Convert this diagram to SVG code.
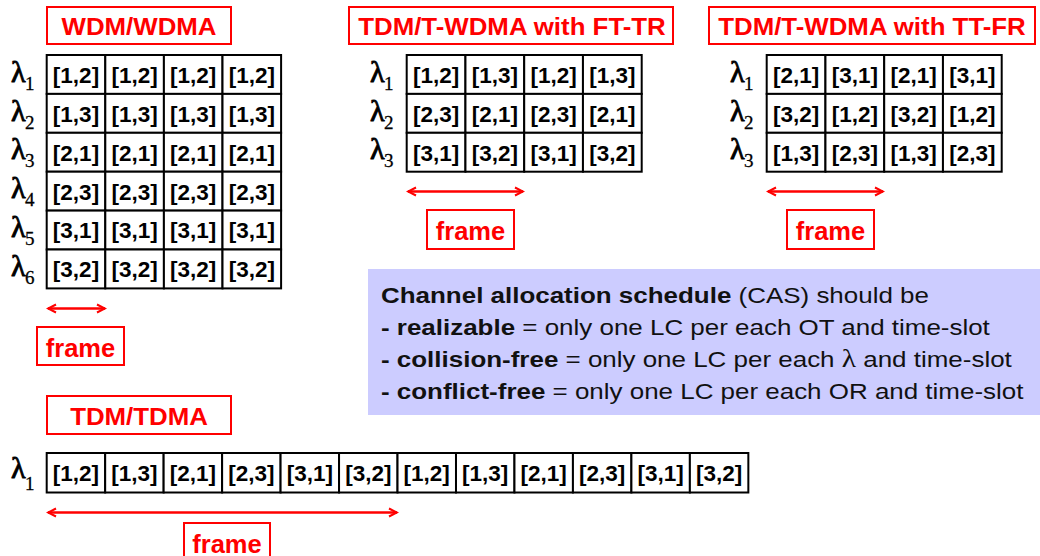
<svg xmlns="http://www.w3.org/2000/svg" width="1040" height="556" viewBox="0 0 1040 556">
<style>
.rbox{fill:#fff;stroke:#ff0000;stroke-width:2}
.title{font-family:"Liberation Sans",Arial,sans-serif;font-weight:bold;font-size:23.5px;fill:#ff0000;text-anchor:middle}
.frm{font-family:"Liberation Sans",Arial,sans-serif;font-weight:bold;font-size:25.5px;fill:#ff0000;text-anchor:middle}
.cell{fill:#fff;stroke:#000;stroke-width:2}
.ct{font-family:"Liberation Sans",Arial,sans-serif;font-weight:bold;font-size:22.5px;fill:#000;text-anchor:middle}
.lam{font-family:"Liberation Serif","Times New Roman",serif;font-weight:normal;font-size:30px;fill:#000;stroke:#000;stroke-width:0.9}
.sub{font-size:19px;stroke-width:0.3}
.arr{stroke:#ff0000;stroke-width:2.5;fill:none;marker-start:url(#ah);marker-end:url(#ah)}
.cas{font-family:"Liberation Sans",Arial,sans-serif;font-size:22px;fill:#111}
.b{font-weight:bold}
.gl{font-family:"Liberation Serif","Times New Roman",serif;font-size:25px}
</style>
<defs>
<marker id="ah" viewBox="-10 -6 12 12" refX="0" refY="0" markerWidth="12" markerHeight="12" markerUnits="userSpaceOnUse" orient="auto-start-reverse">
<path d="M-8,-4 L0,0 L-8,4" fill="none" stroke="#ff0000" stroke-width="2"/>
</marker>
</defs>

<g id="title-wdm">
<rect class="rbox" x="47" y="7" width="184" height="37"/>
<text class="title" transform="translate(139,35) scale(1.1,1)">WDM/WDMA</text>
</g>
<g id="title-ftr">
<rect class="rbox" x="349" y="7" width="324" height="37"/>
<text class="title" transform="translate(512,35) scale(1.1,1)">TDM/T-WDMA with FT-TR</text>
</g>
<g id="title-ttfr">
<rect class="rbox" x="709" y="7" width="326" height="37"/>
<text class="title" transform="translate(872,35) scale(1.1,1)">TDM/T-WDMA with TT-FR</text>
</g>
<g id="title-tdm">
<rect class="rbox" x="47" y="396" width="184" height="38"/>
<text class="title" transform="translate(139,425) scale(1.1,1)">TDM/TDMA</text>
</g>

<g id="grid-wdm">
<g>
<rect class="cell" x="46.7" y="55" width="58.6" height="38.9"/><rect class="cell" x="105.3" y="55" width="58.6" height="38.9"/><rect class="cell" x="163.9" y="55" width="58.6" height="38.9"/><rect class="cell" x="222.5" y="55" width="58.6" height="38.9"/>
<rect class="cell" x="46.7" y="93.9" width="58.6" height="38.9"/><rect class="cell" x="105.3" y="93.9" width="58.6" height="38.9"/><rect class="cell" x="163.9" y="93.9" width="58.6" height="38.9"/><rect class="cell" x="222.5" y="93.9" width="58.6" height="38.9"/>
<rect class="cell" x="46.7" y="132.8" width="58.6" height="38.9"/><rect class="cell" x="105.3" y="132.8" width="58.6" height="38.9"/><rect class="cell" x="163.9" y="132.8" width="58.6" height="38.9"/><rect class="cell" x="222.5" y="132.8" width="58.6" height="38.9"/>
<rect class="cell" x="46.7" y="171.7" width="58.6" height="38.9"/><rect class="cell" x="105.3" y="171.7" width="58.6" height="38.9"/><rect class="cell" x="163.9" y="171.7" width="58.6" height="38.9"/><rect class="cell" x="222.5" y="171.7" width="58.6" height="38.9"/>
<rect class="cell" x="46.7" y="210.6" width="58.6" height="38.9"/><rect class="cell" x="105.3" y="210.6" width="58.6" height="38.9"/><rect class="cell" x="163.9" y="210.6" width="58.6" height="38.9"/><rect class="cell" x="222.5" y="210.6" width="58.6" height="38.9"/>
<rect class="cell" x="46.7" y="249.5" width="58.6" height="38.9"/><rect class="cell" x="105.3" y="249.5" width="58.6" height="38.9"/><rect class="cell" x="163.9" y="249.5" width="58.6" height="38.9"/><rect class="cell" x="222.5" y="249.5" width="58.6" height="38.9"/>
</g>
<text class="ct" x="76" y="82.5">[1,2]</text><text class="ct" x="134.6" y="82.5">[1,2]</text><text class="ct" x="193.2" y="82.5">[1,2]</text><text class="ct" x="251.8" y="82.5">[1,2]</text>
<text class="ct" x="76" y="121.5">[1,3]</text><text class="ct" x="134.6" y="121.5">[1,3]</text><text class="ct" x="193.2" y="121.5">[1,3]</text><text class="ct" x="251.8" y="121.5">[1,3]</text>
<text class="ct" x="76" y="160.5">[2,1]</text><text class="ct" x="134.6" y="160.5">[2,1]</text><text class="ct" x="193.2" y="160.5">[2,1]</text><text class="ct" x="251.8" y="160.5">[2,1]</text>
<text class="ct" x="76" y="199.5">[2,3]</text><text class="ct" x="134.6" y="199.5">[2,3]</text><text class="ct" x="193.2" y="199.5">[2,3]</text><text class="ct" x="251.8" y="199.5">[2,3]</text>
<text class="ct" x="76" y="238">[3,1]</text><text class="ct" x="134.6" y="238">[3,1]</text><text class="ct" x="193.2" y="238">[3,1]</text><text class="ct" x="251.8" y="238">[3,1]</text>
<text class="ct" x="76" y="277">[3,2]</text><text class="ct" x="134.6" y="277">[3,2]</text><text class="ct" x="193.2" y="277">[3,2]</text><text class="ct" x="251.8" y="277">[3,2]</text>
<text class="lam" x="11" y="81.5">λ<tspan class="sub" x="25" y="89.5">1</tspan></text>
<text class="lam" x="11" y="120.5">λ<tspan class="sub" x="25" y="128.5">2</tspan></text>
<text class="lam" x="11" y="159">λ<tspan class="sub" x="25" y="167">3</tspan></text>
<text class="lam" x="11" y="198">λ<tspan class="sub" x="25" y="206">4</tspan></text>
<text class="lam" x="11" y="237">λ<tspan class="sub" x="25" y="245">5</tspan></text>
<text class="lam" x="11" y="276">λ<tspan class="sub" x="25" y="284">6</tspan></text>
</g>

<g id="grid-ftr">
<g>
<rect class="cell" x="406.7" y="55" width="58.75" height="38.9"/><rect class="cell" x="465.45" y="55" width="58.75" height="38.9"/><rect class="cell" x="524.2" y="55" width="58.75" height="38.9"/><rect class="cell" x="582.95" y="55" width="58.75" height="38.9"/>
<rect class="cell" x="406.7" y="93.9" width="58.75" height="38.9"/><rect class="cell" x="465.45" y="93.9" width="58.75" height="38.9"/><rect class="cell" x="524.2" y="93.9" width="58.75" height="38.9"/><rect class="cell" x="582.95" y="93.9" width="58.75" height="38.9"/>
<rect class="cell" x="406.7" y="132.8" width="58.75" height="38.9"/><rect class="cell" x="465.45" y="132.8" width="58.75" height="38.9"/><rect class="cell" x="524.2" y="132.8" width="58.75" height="38.9"/><rect class="cell" x="582.95" y="132.8" width="58.75" height="38.9"/>
</g>
<text class="ct" x="436.1" y="82.5">[1,2]</text><text class="ct" x="494.8" y="82.5">[1,3]</text><text class="ct" x="553.6" y="82.5">[1,2]</text><text class="ct" x="612.3" y="82.5">[1,3]</text>
<text class="ct" x="436.1" y="121.5">[2,3]</text><text class="ct" x="494.8" y="121.5">[2,1]</text><text class="ct" x="553.6" y="121.5">[2,3]</text><text class="ct" x="612.3" y="121.5">[2,1]</text>
<text class="ct" x="436.1" y="160.5">[3,1]</text><text class="ct" x="494.8" y="160.5">[3,2]</text><text class="ct" x="553.6" y="160.5">[3,1]</text><text class="ct" x="612.3" y="160.5">[3,2]</text>
<text class="lam" x="370" y="81.5">λ<tspan class="sub" x="384" y="89.5">1</tspan></text>
<text class="lam" x="370" y="120.5">λ<tspan class="sub" x="384" y="128.5">2</tspan></text>
<text class="lam" x="370" y="159">λ<tspan class="sub" x="384" y="167">3</tspan></text>
</g>

<g id="grid-ttfr">
<g>
<rect class="cell" x="766.7" y="55" width="58.75" height="38.9"/><rect class="cell" x="825.45" y="55" width="58.75" height="38.9"/><rect class="cell" x="884.2" y="55" width="58.75" height="38.9"/><rect class="cell" x="942.95" y="55" width="58.75" height="38.9"/>
<rect class="cell" x="766.7" y="93.9" width="58.75" height="38.9"/><rect class="cell" x="825.45" y="93.9" width="58.75" height="38.9"/><rect class="cell" x="884.2" y="93.9" width="58.75" height="38.9"/><rect class="cell" x="942.95" y="93.9" width="58.75" height="38.9"/>
<rect class="cell" x="766.7" y="132.8" width="58.75" height="38.9"/><rect class="cell" x="825.45" y="132.8" width="58.75" height="38.9"/><rect class="cell" x="884.2" y="132.8" width="58.75" height="38.9"/><rect class="cell" x="942.95" y="132.8" width="58.75" height="38.9"/>
</g>
<text class="ct" x="796.1" y="82.5">[2,1]</text><text class="ct" x="854.8" y="82.5">[3,1]</text><text class="ct" x="913.6" y="82.5">[2,1]</text><text class="ct" x="972.3" y="82.5">[3,1]</text>
<text class="ct" x="796.1" y="121.5">[3,2]</text><text class="ct" x="854.8" y="121.5">[1,2]</text><text class="ct" x="913.6" y="121.5">[3,2]</text><text class="ct" x="972.3" y="121.5">[1,2]</text>
<text class="ct" x="796.1" y="160.5">[1,3]</text><text class="ct" x="854.8" y="160.5">[2,3]</text><text class="ct" x="913.6" y="160.5">[1,3]</text><text class="ct" x="972.3" y="160.5">[2,3]</text>
<text class="lam" x="730" y="81.5">λ<tspan class="sub" x="744" y="89.5">1</tspan></text>
<text class="lam" x="730" y="120.5">λ<tspan class="sub" x="744" y="128.5">2</tspan></text>
<text class="lam" x="730" y="159">λ<tspan class="sub" x="744" y="167">3</tspan></text>
</g>

<g id="grid-tdm">
<g>
<rect class="cell" x="46.7" y="453" width="58.47" height="39.5"/><rect class="cell" x="105.17" y="453" width="58.47" height="39.5"/><rect class="cell" x="163.64" y="453" width="58.47" height="39.5"/><rect class="cell" x="222.11" y="453" width="58.47" height="39.5"/>
<rect class="cell" x="280.58" y="453" width="58.47" height="39.5"/><rect class="cell" x="339.05" y="453" width="58.47" height="39.5"/><rect class="cell" x="397.52" y="453" width="58.47" height="39.5"/><rect class="cell" x="455.99" y="453" width="58.47" height="39.5"/>
<rect class="cell" x="514.46" y="453" width="58.47" height="39.5"/><rect class="cell" x="572.93" y="453" width="58.47" height="39.5"/><rect class="cell" x="631.4" y="453" width="58.47" height="39.5"/><rect class="cell" x="689.87" y="453" width="58.47" height="39.5"/>
</g>
<text class="ct" x="75.9" y="480.5">[1,2]</text><text class="ct" x="134.4" y="480.5">[1,3]</text><text class="ct" x="192.9" y="480.5">[2,1]</text><text class="ct" x="251.3" y="480.5">[2,3]</text>
<text class="ct" x="309.8" y="480.5">[3,1]</text><text class="ct" x="368.3" y="480.5">[3,2]</text><text class="ct" x="426.7" y="480.5">[1,2]</text><text class="ct" x="485.2" y="480.5">[1,3]</text>
<text class="ct" x="543.7" y="480.5">[2,1]</text><text class="ct" x="602.1" y="480.5">[2,3]</text><text class="ct" x="660.6" y="480.5">[3,1]</text><text class="ct" x="719.1" y="480.5">[3,2]</text>
<text class="lam" x="11" y="478">λ<tspan class="sub" x="25" y="490">1</tspan></text>
</g>

<g id="frame-wdm">
<rect class="rbox" x="37" y="327" width="87" height="38"/>
<text class="frm" x="80.5" y="357">frame</text>
</g>
<g id="frame-ftr">
<rect class="rbox" x="427" y="210" width="87" height="39"/>
<text class="frm" x="470.5" y="240">frame</text>
</g>
<g id="frame-ttfr">
<rect class="rbox" x="787" y="210" width="87" height="39"/>
<text class="frm" x="830.5" y="240">frame</text>
</g>
<g id="frame-tdm">
<rect class="rbox" x="184" y="523" width="86" height="40"/>
<text class="frm" x="227" y="553">frame</text>
</g>

<g id="cas">
<rect x="368" y="269" width="672" height="146" fill="#ccccff"/>
<text class="cas" transform="translate(381,303) scale(1.18,1)"><tspan class="b">Channel allocation schedule</tspan> (CAS) should be</text>
<text class="cas" transform="translate(381,335) scale(1.18,1)"><tspan class="b">- realizable</tspan> = only one LC per each OT and time-slot</text>
<text class="cas" transform="translate(381,367) scale(1.18,1)"><tspan class="b">- collision-free</tspan> = only one LC per each <tspan class="gl">λ</tspan> and time-slot</text>
<text class="cas" transform="translate(381,399) scale(1.18,1)"><tspan class="b">- conflict-free</tspan> = only one LC per each OR and time-slot</text>
</g>

<g id="connectors">
<path class="arr" d="M48,308.5 L105,308.5"/>
<path class="arr" d="M408,191.5 L523,191.5"/>
<path class="arr" d="M768,191.5 L883,191.5"/>
<path class="arr" d="M48,512.5 L397,512.5"/>
</g>
</svg>
